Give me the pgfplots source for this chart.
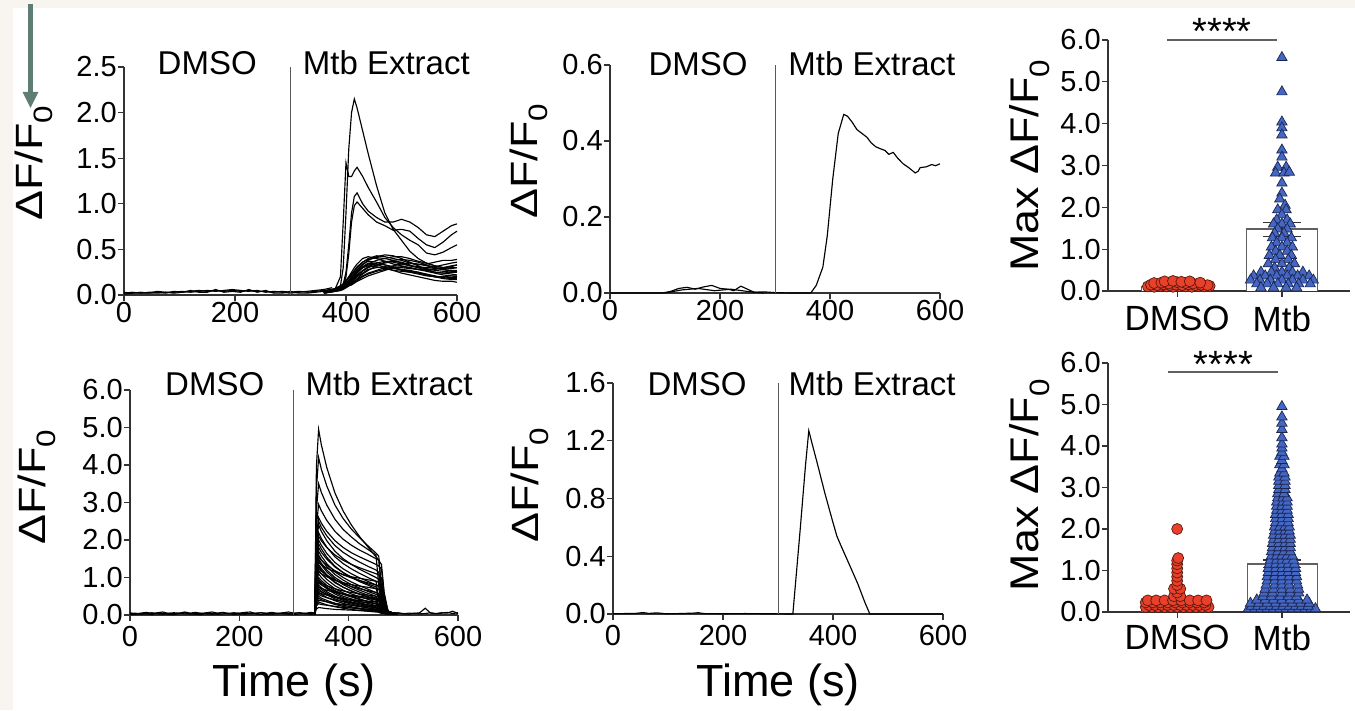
\documentclass[border=0pt]{standalone}
\usepackage{pgfplots}
\pgfplotsset{compat=1.18}
\usepackage{pgfplotstable}
\usepackage{graphicx}
\usepackage{fontspec}
\setmainfont{Liberation Sans}

\newcommand{\fs}[1]{\fontsize{#1}{#1}\selectfont}

\definecolor{bgc}{HTML}{F8F5F0}
\definecolor{arrowc}{HTML}{5E7D74}
\definecolor{dred}{HTML}{E8402A}
\definecolor{dredE}{HTML}{5A1A10}
\definecolor{mblue}{HTML}{4467C4}
\definecolor{mblueE}{HTML}{1B2550}
\definecolor{axc}{HTML}{333333}

\pgfplotsset{
  gp/.style={scale only axis, anchor=south west,
    axis x line*=bottom, axis y line*=left,
    axis line style={line width=1.4pt, axc},
    tick style={line width=1.2pt, axc},
    major tick length=6pt, tick align=outside,
    tick label style={font=\fs{29}, inner sep=1pt},
    /pgf/number format/assume math mode=true,
    yticklabel style={/pgf/number format/fixed,
      /pgf/number format/fixed zerofill, /pgf/number format/precision=1},
    clip=false},
  ylpos/.style 2 args={every axis y label/.style={
      at={(axis description cs:#1,#2)}, rotate=90, anchor=base, font=\fs{38}}},
  xlpos/.style={every axis x label/.style={
      at={(axis description cs:0.5,#1)}, anchor=base, font=\fs{45}}},
  tr/.style={black, line width=1.15pt, mark=none},
  stim/.style={gray!70!black, line width=1pt},
  barbox/.style={draw=gray!75!black, line width=1.3pt, fill=white},
  ebar/.style={axc, line width=1.3pt},
  dmso/.style={only marks, mark=*, mark size=5.5pt,
    mark options={fill=dred, draw=dredE, line width=0.7pt}},
  mtb/.style={only marks, mark=triangle*, mark size=6pt,
    mark options={fill=mblue, draw=mblueE, line width=0.7pt}},
}

% ---------- top-left traces ----------
\pgfplotstableread[header=true]{
name 0 15 30 45 60 75 90 105 120 135 150 165 180 195 210 225 240 255 270 285 300 315 330 345 360 375
b1 0.02 0.03 0.02 0.03 0.03 0.02 0.04 0.03 0.04 0.05 0.04 0.05 0.04 0.05 0.04 0.05 0.04 0.04 0.03 0.04 0.03 0.04 0.03 0.04 0.05 0.06
b2 0.01 0.02 0.03 0.02 0.02 0.03 0.03 0.04 0.03 0.04 0.05 0.04 0.05 0.06 0.05 0.04 0.05 0.03 0.04 0.03 0.02 0.03 0.04 0.05 0.06 0.08
b3 0.03 0.02 0.02 0.02 0.04 0.03 0.02 0.03 0.05 0.03 0.03 0.06 0.03 0.04 0.03 0.06 0.03 0.05 0.02 0.02 0.04 0.02 0.02 0.03 0.04 0.05
}\AbaseRaw
\pgfplotstabletranspose[colnames from=name]\Abase\AbaseRaw

\pgfplotstableread[header=true]{
name 360 380 390 395 400 405 410 415 420 430 440 455 470 485 500 515 530 545 560 575 590 600
T1 0.04 0.07 0.1 0.3 0.9 1.6 2.0 2.15 2.05 1.8 1.55 1.2 0.9 0.72 0.6 0.48 0.4 0.35 0.32 0.3 0.29 0.3
T2 0.04 0.06 0.2 0.8 1.45 1.3 1.3 1.36 1.4 1.3 1.18 1.02 0.85 0.74 0.66 0.6 0.55 0.46 0.44 0.47 0.52 0.55
T3 0.04 0.06 0.08 0.12 0.25 0.55 0.9 1.08 1.12 1.0 0.92 0.85 0.8 0.8 0.83 0.8 0.74 0.66 0.64 0.7 0.76 0.78
T4 0.04 0.05 0.07 0.1 0.2 0.45 0.8 0.98 1.02 0.95 0.88 0.8 0.76 0.71 0.72 0.7 0.62 0.55 0.52 0.58 0.66 0.7
L1 0.03 0.06 0.09 0.12 0.16 0.2 0.25 0.3 0.34 0.4 0.42 0.4 0.37 0.34 0.32 0.3 0.28 0.27 0.28 0.3 0.32 0.33
L2 0.04 0.07 0.1 0.12 0.15 0.18 0.22 0.26 0.3 0.36 0.4 0.43 0.42 0.4 0.38 0.35 0.33 0.34 0.36 0.38 0.38 0.39
L3 0.03 0.05 0.07 0.09 0.11 0.14 0.17 0.2 0.24 0.3 0.34 0.38 0.4 0.42 0.42 0.4 0.37 0.35 0.32 0.3 0.31 0.33
L4 0.02 0.05 0.08 0.1 0.13 0.16 0.2 0.24 0.28 0.34 0.37 0.36 0.33 0.3 0.27 0.25 0.24 0.22 0.2 0.2 0.21 0.2
L5 0.04 0.06 0.08 0.1 0.12 0.14 0.16 0.18 0.21 0.26 0.3 0.33 0.35 0.37 0.36 0.33 0.3 0.27 0.25 0.24 0.25 0.26
L6 0.03 0.05 0.06 0.08 0.1 0.12 0.14 0.17 0.2 0.24 0.28 0.3 0.31 0.3 0.28 0.26 0.25 0.22 0.2 0.18 0.17 0.17
L7 0.03 0.04 0.06 0.07 0.09 0.11 0.13 0.15 0.17 0.21 0.24 0.27 0.3 0.32 0.34 0.35 0.34 0.32 0.3 0.29 0.3 0.3
L8 0.02 0.04 0.05 0.07 0.09 0.12 0.16 0.2 0.25 0.31 0.35 0.34 0.3 0.27 0.24 0.22 0.2 0.18 0.16 0.15 0.15 0.14
L9 0.04 0.06 0.07 0.08 0.1 0.11 0.13 0.15 0.18 0.23 0.27 0.32 0.36 0.38 0.39 0.38 0.36 0.33 0.3 0.28 0.27 0.27
L10 0.03 0.05 0.07 0.09 0.12 0.15 0.19 0.23 0.27 0.33 0.38 0.42 0.44 0.43 0.4 0.36 0.32 0.28 0.25 0.24 0.23 0.22
L11 0.02 0.04 0.05 0.06 0.08 0.1 0.12 0.14 0.16 0.2 0.23 0.26 0.28 0.29 0.28 0.27 0.25 0.23 0.21 0.19 0.18 0.18
L12 0.03 0.05 0.06 0.08 0.1 0.13 0.16 0.19 0.22 0.27 0.31 0.35 0.37 0.36 0.34 0.32 0.31 0.3 0.31 0.33 0.35 0.36
L13 0.04 0.06 0.08 0.1 0.12 0.15 0.18 0.22 0.26 0.3 0.32 0.31 0.29 0.27 0.26 0.25 0.23 0.21 0.2 0.2 0.19 0.19
L14 0.03 0.05 0.06 0.07 0.08 0.1 0.11 0.13 0.15 0.18 0.21 0.24 0.27 0.3 0.31 0.3 0.28 0.26 0.24 0.22 0.21 0.21
L15 0.02 0.04 0.06 0.08 0.11 0.14 0.18 0.22 0.26 0.3 0.33 0.34 0.33 0.31 0.3 0.29 0.28 0.28 0.29 0.28 0.26 0.25
L16 0.03 0.06 0.09 0.12 0.15 0.19 0.23 0.27 0.31 0.36 0.39 0.41 0.4 0.38 0.35 0.32 0.3 0.29 0.27 0.26 0.25 0.25
}\AoneRaw
\pgfplotstabletranspose[colnames from=name]\Aone\AoneRaw

% ---------- bottom-left traces ----------
\pgfplotstableread[header=true]{
name 0 10 20 30 40 50 60 70 80 90 100 110 120 130 140 150 160 170 180 190 200 210 220 230 240 250 260 270 280 290 300 310 320 330 340
a1 0.03 0.05 0.02 0.04 0.06 0.03 0.02 0.05 0.04 0.03 0.06 0.02 0.04 0.05 0.03 0.02 0.04 0.06 0.03 0.05 0.02 0.04 0.03 0.05 0.06 0.02 0.04 0.03 0.05 0.02 0.04 0.06 0.03 0.04 0.03
a2 0.01 0.02 0.04 0.03 0.01 0.05 0.04 0.02 0.01 0.05 0.03 0.04 0.02 0.01 0.05 0.04 0.02 0.03 0.05 0.01 0.04 0.02 0.05 0.03 0.01 0.04 0.02 0.05 0.03 0.04 0.01 0.03 0.05 0.02 0.03
a3 0.06 0.03 0.05 0.07 0.04 0.06 0.08 0.04 0.06 0.05 0.08 0.05 0.07 0.04 0.06 0.08 0.05 0.07 0.04 0.06 0.05 0.07 0.08 0.04 0.06 0.05 0.07 0.04 0.06 0.08 0.05 0.06 0.04 0.07 0.05
}\BbaseRaw
\pgfplotstabletranspose[colnames from=name]\Bbase\BbaseRaw

\pgfplotstableread[header=true]{
name 470 480 490 500 510 520 530 540 550 560 570 580 590 600
z1 0.05 0.04 0.06 0.03 0.05 0.04 0.06 0.18 0.05 0.04 0.06 0.05 0.1 0.04
z2 0.08 0.03 0.05 0.04 0.02 0.05 0.03 0.04 0.06 0.03 0.05 0.07 0.04 0.06
}\BtailRaw
\pgfplotstabletranspose[colnames from=name]\Btail\BtailRaw

\pgfplotstableread[header=true]{
name 338 341 345 350 360 375 390 405 420 435 450 455 460 465 472 480 490
r1 0.04 3.96 4.95 4.54 3.93 3.25 2.77 2.40 2.09 1.82 1.55 1.47 0.70 0.28 0.08 0.05 0.03
r2 0.03 3.36 4.2 3.89 3.44 2.93 2.57 2.29 2.06 1.85 1.65 1.57 0.74 0.3 0.08 0.05 0.03
r3 0.05 2.8 3.5 3.27 2.93 2.55 2.28 2.08 1.9 1.75 1.6 0.8 0.32 0.1 0.06 0.05 0.03
r4 0.03 2.36 2.95 2.78 2.52 2.23 2.02 1.86 1.73 1.62 1.5 1.46 1.35 0.6 0.1 0.06 0.03
r5 0.04 2.08 2.6 2.45 2.23 1.98 1.8 1.66 1.55 1.45 1.35 1.31 1.22 0.54 0.1 0.06 0.03
r6 0.02 2.0 2.5 2.34 2.11 1.85 1.67 1.53 1.41 1.3 1.2 1.14 0.54 0.23 0.08 0.05 0.03
r7 0.04 1.92 2.4 2.23 1.98 1.7 1.5 1.35 1.22 1.11 1.0 0.95 0.45 0.2 0.08 0.05 0.03
r8 0.03 1.76 2.2 2.04 1.81 1.55 1.37 1.23 1.11 1.0 0.9 0.45 0.18 0.1 0.06 0.04 0.03
r9 0.05 1.68 2.1 1.98 1.8 1.6 1.46 1.35 1.26 1.18 1.1 1.07 0.99 0.44 0.1 0.06 0.03
r10 0.03 1.6 2.0 1.86 1.64 1.4 1.23 1.1 0.99 0.9 0.8 0.76 0.36 0.17 0.08 0.05 0.03
r11 0.04 1.52 1.9 1.76 1.54 1.3 1.13 1.0 0.89 0.8 0.7 0.68 0.63 0.28 0.1 0.06 0.03
r12 0.02 1.44 1.8 1.67 1.49 1.28 1.13 1.01 0.92 0.83 0.75 0.38 0.15 0.1 0.06 0.04 0.03
r13 0.04 1.36 1.7 1.57 1.37 1.15 1.0 0.88 0.78 0.69 0.6 0.57 0.27 0.14 0.08 0.05 0.03
r14 0.03 1.28 1.6 1.47 1.29 1.08 0.93 0.81 0.72 0.63 0.55 0.53 0.5 0.22 0.09 0.06 0.03
r15 0.05 1.2 1.5 1.38 1.2 1.0 0.86 0.75 0.66 0.58 0.5 0.25 0.1 0.07 0.05 0.04 0.03
r16 0.03 1.16 1.45 1.33 1.15 0.95 0.81 0.7 0.61 0.53 0.45 0.43 0.2 0.12 0.07 0.05 0.03
r17 0.04 1.08 1.35 1.24 1.07 0.88 0.74 0.64 0.55 0.48 0.4 0.38 0.18 0.11 0.07 0.05 0.03
r18 0.02 1.04 1.3 1.19 1.04 0.86 0.74 0.64 0.56 0.49 0.42 0.41 0.38 0.17 0.08 0.05 0.03
r19 0.04 0.96 1.2 1.1 0.95 0.78 0.66 0.56 0.49 0.42 0.35 0.18 0.08 0.06 0.05 0.04 0.03
r20 0.03 0.88 1.1 1.0 0.86 0.7 0.59 0.5 0.43 0.36 0.3 0.29 0.14 0.09 0.06 0.04 0.03
r21 0.05 0.8 1.0 0.92 0.79 0.65 0.55 0.48 0.41 0.36 0.3 0.15 0.07 0.05 0.04 0.03 0.02
r22 0.03 0.76 0.95 0.87 0.74 0.6 0.5 0.43 0.36 0.31 0.25 0.24 0.23 0.1 0.06 0.04 0.03
r23 0.04 0.72 0.9 0.82 0.7 0.56 0.46 0.39 0.33 0.27 0.22 0.11 0.06 0.05 0.04 0.03 0.02
r24 0.02 0.64 0.8 0.73 0.62 0.5 0.42 0.35 0.3 0.25 0.2 0.19 0.09 0.06 0.05 0.04 0.03
r25 0.04 0.6 0.75 0.68 0.58 0.47 0.39 0.32 0.27 0.23 0.18 0.17 0.16 0.08 0.05 0.04 0.03
r26 0.03 0.56 0.7 0.63 0.54 0.43 0.35 0.29 0.24 0.19 0.15 0.14 0.08 0.05 0.04 0.03 0.02
r27 0.05 0.48 0.6 0.55 0.47 0.38 0.31 0.26 0.22 0.19 0.15 0.15 0.14 0.07 0.05 0.04 0.03
r28 0.03 0.4 0.5 0.45 0.39 0.31 0.26 0.22 0.18 0.15 0.12 0.07 0.05 0.04 0.04 0.03 0.02
r29 0.04 0.36 0.45 0.41 0.35 0.28 0.23 0.19 0.16 0.13 0.1 0.1 0.09 0.05 0.04 0.03 0.02
r30 0.02 0.28 0.35 0.32 0.27 0.22 0.18 0.15 0.12 0.1 0.08 0.08 0.05 0.04 0.03 0.03 0.02
r31 0.03 0.52 0.65 0.61 0.55 0.48 0.43 0.39 0.36 0.33 0.3 0.29 0.27 0.12 0.07 0.04 0.03
r32 0.04 1.0 1.25 1.17 1.06 0.93 0.83 0.76 0.7 0.65 0.6 0.57 0.27 0.14 0.08 0.05 0.03
r33 0.03 0.68 0.85 0.8 0.72 0.63 0.56 0.51 0.47 0.44 0.4 0.2 0.08 0.06 0.05 0.04 0.03
r34 0.05 1.24 1.55 1.46 1.33 1.18 1.07 0.99 0.92 0.86 0.8 0.78 0.72 0.32 0.1 0.06 0.03
r35 0.02 0.44 0.55 0.51 0.46 0.4 0.36 0.33 0.3 0.27 0.25 0.24 0.11 0.09 0.05 0.04 0.03
r36 0.03 0.32 0.4 0.38 0.35 0.31 0.28 0.26 0.24 0.22 0.2 0.19 0.18 0.08 0.05 0.04 0.03
r37 0.04 0.24 0.3 0.28 0.26 0.23 0.2 0.19 0.17 0.16 0.15 0.08 0.05 0.04 0.03 0.03 0.02
r38 0.03 0.72 0.9 0.85 0.78 0.7 0.64 0.6 0.56 0.53 0.5 0.48 0.22 0.1 0.06 0.04 0.03
r39 0.04 0.92 1.15 1.1 1.02 0.93 0.86 0.81 0.77 0.74 0.7 0.68 0.63 0.28 0.1 0.05 0.03
r40 0.03 0.48 0.6 0.57 0.53 0.48 0.44 0.41 0.39 0.37 0.35 0.18 0.08 0.05 0.04 0.03 0.02
r41 0.02 0.16 0.2 0.19 0.17 0.15 0.14 0.13 0.12 0.11 0.1 0.1 0.06 0.04 0.03 0.03 0.02
r42 0.04 0.6 0.75 0.71 0.66 0.6 0.56 0.52 0.5 0.47 0.45 0.43 0.2 0.1 0.06 0.04 0.03
r43 0.03 1.12 1.4 1.34 1.25 1.15 1.08 1.02 0.98 0.94 0.9 0.87 0.81 0.36 0.1 0.06 0.03
}\AtwoRaw
\pgfplotstabletranspose[colnames from=name]\Atwo\AtwoRaw

\begin{document}
\begin{tikzpicture}
\useasboundingbox (0,0) rectangle (1355pt,710pt);
\fill[bgc] (0,0) rectangle (1355pt,710pt);
\fill[white] (13pt,0) rectangle (1355pt,702pt);
% marker arrow
\fill[arrowc] (28pt,706pt) rectangle (33pt,616pt);
\fill[arrowc] (22.5pt,618pt) -- (38.5pt,618pt) -- (30.5pt,602pt) -- cycle;

% ===== top-left =====
\begin{axis}[gp, at={(124pt,415pt)}, width=333pt, height=228pt,
  xmin=0, xmax=600, ymin=0, ymax=2.5,
  xtick={0,200,400,600}, ytick={0,0.5,1,1.5,2,2.5},
  ylabel={\scalebox{1.18}[1]{ΔF/F\textsubscript{0}}}, ylpos={-0.246}{0.579}]
  \pgfplotsinvokeforeach{b1,b2,b3}{\addplot[tr] table[x=colnames,y=#1]{\Abase};}
  \pgfplotsinvokeforeach{L1,L2,L3,L4,L5,L6,L7,L8,L9,L10,L11,L12,L13,L14,L15,L16,T4,T3,T2,T1}{
    \addplot[tr] table[x=colnames,y=#1]{\Aone};}
  \addplot[stim] coordinates {(300,0) (300,2.5)};
  \node[font=\fs{33}, anchor=base, yshift=-8pt] at (axis cs:150,2.5) {DMSO};
  \node[font=\fs{33}, anchor=base west, yshift=-8pt] at (axis cs:316,2.5) {Mtb Extract};
\end{axis}

% ===== top-middle =====
\begin{axis}[gp, at={(610pt,417pt)}, width=330pt, height=228pt,
  xmin=0, xmax=600, ymin=0, ymax=0.6,
  xtick={0,200,400,600}, ytick={0,0.2,0.4,0.6},
  ylabel={\scalebox{1.18}[1]{ΔF/F\textsubscript{0}}}, ylpos={-0.221}{0.579}]
  \addplot[tr] coordinates {(100,0) (130,0.008) (160,0.012) (190,0.006) (220,0.01) (250,0.004) (280,0)};
  \addplot[tr] coordinates {(0,0) (95,0) (110,0.004) (125,0.012) (140,0.015) (155,0.01)
    (170,0.016) (185,0.02) (200,0.012) (215,0.01) (225,0.006) (238,0.018) (250,0.01)
    (262,0.002) (280,0.003) (300,0.001) (330,0) (365,0) (375,0.02) (387,0.068) (395,0.15)
    (405,0.3) (415,0.42) (425,0.47) (432,0.465) (440,0.45) (449,0.43) (458,0.42) (467,0.41)
    (475,0.395) (483,0.385) (491,0.38) (500,0.375) (507,0.365) (515,0.37) (523,0.355)
    (533,0.34) (543,0.33) (555,0.316) (560,0.32) (564,0.33) (575,0.332) (585,0.338)
    (592,0.335) (600,0.34)};
  \addplot[stim] coordinates {(300,0) (300,0.6)};
  \node[font=\fs{33}, anchor=base, yshift=-10pt] at (axis cs:160,0.6) {DMSO};
  \node[font=\fs{33}, anchor=base west, yshift=-10pt] at (axis cs:318,0.6) {Mtb Extract};
\end{axis}

% ===== top-right =====
\begin{axis}[gp, at={(1108pt,419pt)}, width=242pt, height=251pt,
  xmin=0.34, xmax=2.65, ymin=0, ymax=6,
  ytick={0,1,2,3,4,5,6}, xtick={1,2}, xticklabels={DMSO,Mtb},
  xticklabel style={font=\fs{35}, yshift=-8pt},
  ylabel={\scalebox{1.12}[1]{Max ΔF/F\textsubscript{0}}}, ylpos={-0.289}{0.5},
  every axis y label/.append style={font=\fs{40}}]
  \addplot[barbox] coordinates {(0.66,0) (0.66,0.11) (1.34,0.11) (1.34,0)};
  \addplot[barbox] coordinates {(1.66,0) (1.66,1.48) (2.34,1.48) (2.34,0)};
  \addplot[dmso] coordinates {
    (0.72,0.11) (0.78,0.1) (0.84,0.12) (0.9,0.11) (0.96,0.1) (1.02,0.12) (1.08,0.11)
    (1.14,0.1) (1.2,0.12) (1.26,0.11) (1.31,0.12)
    (0.75,0.15) (0.81,0.14) (0.87,0.16) (0.93,0.14) (0.99,0.15) (1.05,0.14) (1.11,0.16)
    (1.17,0.14) (1.23,0.15) (1.29,0.14)
    (0.78,0.19) (0.85,0.2) (0.92,0.18) (1.0,0.21) (1.08,0.19) (1.15,0.18) (1.22,0.2)
    (0.88,0.23) (0.96,0.24) (1.04,0.22) (1.12,0.23)};
  \addplot[mtb] coordinates {
    (2,5.58) (2,4.76) (2,4.04) (2,3.9) (2,3.73) (2,3.37) (2,3.2) (1.96,2.96) (2.04,2.96)
    (1.94,2.82) (2.02,2.82) (2.07,2.84) (2,2.58) (2,2.34) (1.98,2.2) (2.03,2.05)
    (1.96,1.94) (2.04,1.94) (2,1.82) (1.95,1.7) (2.05,1.7) (1.92,1.6) (2,1.6) (2.08,1.6)
    (1.96,1.48) (2.05,1.48) (1.93,1.38) (2.02,1.38) (1.91,1.27) (2,1.27) (2.09,1.27)
    (1.95,1.15) (2.05,1.15) (1.9,1.05) (2,1.05) (2.1,1.05) (1.94,0.95) (2.05,0.95)
    (1.88,0.85) (1.98,0.85) (2.09,0.85) (1.94,0.75) (2.06,0.75) (1.87,0.65) (2,0.65)
    (2.12,0.65) (1.93,0.55) (2.07,0.55) (1.8,0.45) (1.9,0.45) (2,0.45) (2.1,0.45)
    (2.2,0.45) (1.73,0.36) (1.84,0.36) (1.95,0.36) (2.05,0.36) (2.15,0.36) (2.26,0.36)
    (1.7,0.26) (1.79,0.26) (1.89,0.26) (2,0.26) (2.1,0.26) (2.2,0.26) (2.3,0.26)
    (1.76,0.17) (1.86,0.17) (1.96,0.17) (2.06,0.17) (2.16,0.17) (2.27,0.17)
    (1.8,0.08) (1.92,0.08) (2.04,0.08) (2.14,0.08)};
  \addplot[ebar] coordinates {(2,1.31) (2,1.64)};
  \addplot[ebar] coordinates {(1.82,1.64) (2.18,1.64)};
  \addplot[ebar] coordinates {(1.82,1.31) (2.18,1.31)};
  \addplot[gray!75!black, line width=1.3pt] coordinates {(0.905,6) (1.95,6)};
  \node[font=\fs{38}, anchor=base] at (axis cs:1.43,5.9) {****};
\end{axis}

% ===== bottom-left =====
\begin{axis}[gp, at={(130pt,95pt)}, width=328pt, height=225pt,
  xmin=0, xmax=600, ymin=0, ymax=6,
  xtick={0,200,400,600}, ytick={0,1,2,3,4,5,6},
  xticklabel style={yshift=-4pt},
  ylabel={\scalebox{1.18}[1]{ΔF/F\textsubscript{0}}}, ylpos={-0.259}{0.569},
  xlabel={Time (s)}, xlpos={-0.364}]
  \pgfplotsinvokeforeach{a1,a2,a3}{\addplot[tr] table[x=colnames,y=#1]{\Bbase};}
  \pgfplotsinvokeforeach{z1,z2}{\addplot[tr] table[x=colnames,y=#1]{\Btail};}
  \pgfplotsinvokeforeach{r1,r2,r3,r4,r5,r6,r7,r8,r9,r10,r11,r12,r13,r14,r15,r16,r17,r18,
    r19,r20,r21,r22,r23,r24,r25,r26,r27,r28,r29,r30,r31,r32,r33,r34,r35,r36,r37,r38,
    r39,r40,r41,r42,r43}{
    \addplot[tr] table[x=colnames,y=#1]{\Atwo};}
  \addplot[stim] coordinates {(300,0) (300,6)};
  \node[font=\fs{33}, anchor=base, yshift=-5pt] at (axis cs:155,6) {DMSO};
  \node[font=\fs{33}, anchor=base west, yshift=-5pt] at (axis cs:315,6) {Mtb Extract};
\end{axis}

% ===== bottom-middle =====
\begin{axis}[gp, at={(613pt,96pt)}, width=330pt, height=231pt,
  xmin=0, xmax=600, ymin=0, ymax=1.6,
  xtick={0,200,400,600}, ytick={0,0.4,0.8,1.2,1.6},
  xticklabel style={yshift=-4pt},
  ylabel={\scalebox{1.18}[1]{ΔF/F\textsubscript{0}}}, ylpos={-0.227}{0.558},
  xlabel={Time (s)}, xlpos={-0.359}]
  \addplot[tr] coordinates {(0,0.002) (40,0.004) (55,0.01) (65,0.004) (80,0.008) (95,0.002)
    (120,0.003) (145,0.006) (155,0.009) (165,0.003) (200,0.002) (240,0.003) (280,0.002)
    (300,0.001) (327,0) (340,0.57) (350,1.03) (356,1.27) (362,1.18) (371,1.05) (385,0.84)
    (398,0.66) (407,0.54) (416,0.46) (430,0.34) (445,0.21) (458,0.08) (467,0) (600,0)};
  \addplot[stim] coordinates {(300,0) (300,1.6)};
  \node[font=\fs{33}, anchor=base, yshift=-12pt] at (axis cs:153,1.6) {DMSO};
  \node[font=\fs{33}, anchor=base west, yshift=-12pt] at (axis cs:313,1.6) {Mtb Extract};
\end{axis}

% ===== bottom-right =====
\begin{axis}[gp, at={(1108pt,98pt)}, width=242pt, height=249pt,
  xmin=0.34, xmax=2.65, ymin=0, ymax=6,
  ytick={0,1,2,3,4,5,6}, xtick={1,2}, xticklabels={DMSO,Mtb},
  xticklabel style={font=\fs{35}, yshift=-6pt},
  ylabel={\scalebox{1.12}[1]{Max ΔF/F\textsubscript{0}}}, ylpos={-0.289}{0.51},
  every axis y label/.append style={font=\fs{40}}]
  \addplot[barbox] coordinates {(0.66,0) (0.66,0.2) (1.34,0.2) (1.34,0)};
  \addplot[barbox] coordinates {(1.67,0) (1.67,1.16) (2.34,1.16) (2.34,0)};
  \addplot[dmso] coordinates {
    (0.7,0.12) (0.76,0.12) (0.82,0.12) (0.88,0.12) (0.94,0.12) (1.0,0.12) (1.06,0.12)
    (1.12,0.12) (1.18,0.12) (1.24,0.12) (1.3,0.12)
    (0.73,0.17) (0.79,0.17) (0.85,0.17) (0.91,0.17) (0.97,0.17) (1.03,0.17) (1.09,0.17)
    (1.15,0.17) (1.21,0.17) (1.27,0.17)
    (0.7,0.23) (0.77,0.23) (0.84,0.23) (0.91,0.23) (0.98,0.23) (1.05,0.23) (1.12,0.23)
    (1.19,0.23) (1.26,0.23)
    (0.72,0.28) (0.8,0.28) (0.88,0.28) (0.96,0.28) (1.04,0.28) (1.12,0.28) (1.2,0.28)
    (1.28,0.28)
    (0.97,0.38) (1.03,0.38) (1.0,0.47) (0.97,0.56) (1.03,0.56) (1.0,0.65) (1.0,0.75)
    (1.0,0.85) (1.0,0.95) (1.0,1.05) (1.0,1.15) (1.0,1.24) (1.01,1.3) (1.0,2.0)};
  \addplot[mtb] coordinates {
    (1.68,0.08) (1.74,0.08) (1.8,0.08) (1.86,0.08) (1.92,0.08) (1.98,0.08) (2.04,0.08)
    (2.1,0.08) (2.16,0.08) (2.22,0.08) (2.28,0.08) (2.32,0.08)
    (1.71,0.14) (1.77,0.14) (1.83,0.14) (1.89,0.14) (1.95,0.14) (2.01,0.14) (2.07,0.14)
    (2.13,0.14) (2.19,0.14) (2.25,0.14)
    (1.7,0.21) (1.78,0.21) (1.86,0.21) (1.94,0.21) (2.02,0.21) (2.1,0.21) (2.18,0.21)
    (2.26,0.21)
    (1.76,0.29) (1.84,0.29) (1.92,0.29) (2.0,0.29) (2.08,0.29) (2.16,0.29) (2.24,0.29)
    (1.82,0.37) (1.9,0.37) (1.98,0.37) (2.06,0.37) (2.14,0.37)
    (1.83,0.46) (1.91,0.46) (2.0,0.46) (2.08,0.46) (2.16,0.46)
    (1.84,0.55) (1.92,0.55) (2.0,0.55) (2.08,0.55) (2.16,0.55)
    (1.85,0.65) (1.93,0.65) (2.0,0.65) (2.07,0.65) (2.15,0.65)
    (1.86,0.75) (1.93,0.75) (2.0,0.75) (2.07,0.75) (2.14,0.75)
    (1.86,0.85) (1.93,0.85) (2.0,0.85) (2.07,0.85) (2.14,0.85)
    (1.87,0.95) (1.94,0.95) (2.0,0.95) (2.06,0.95) (2.13,0.95)
    (1.87,1.05) (1.94,1.05) (2.0,1.05) (2.06,1.05) (2.13,1.05)
    (1.88,1.15) (1.94,1.15) (2.0,1.15) (2.06,1.15) (2.12,1.15)
    (1.89,1.25) (1.95,1.25) (2.0,1.25) (2.05,1.25) (2.11,1.25)
    (1.9,1.35) (1.95,1.35) (2.0,1.35) (2.05,1.35) (2.1,1.35)
    (1.9,1.45) (1.96,1.45) (2.02,1.45) (2.08,1.45)
    (1.91,1.55) (1.97,1.55) (2.03,1.55) (2.08,1.55)
    (1.91,1.65) (1.97,1.65) (2.03,1.65) (2.08,1.65)
    (1.92,1.75) (1.97,1.75) (2.03,1.75) (2.08,1.75)
    (1.92,1.85) (1.98,1.85) (2.03,1.85) (2.08,1.85)
    (1.93,1.95) (1.98,1.95) (2.03,1.95) (2.07,1.95)
    (1.93,2.05) (1.98,2.05) (2.03,2.05) (2.07,2.05)
    (1.94,2.15) (2.0,2.15) (2.06,2.15) (1.94,2.25) (2.0,2.25) (2.06,2.25)
    (1.94,2.35) (2.0,2.35) (2.06,2.35) (1.95,2.45) (2.0,2.45) (2.05,2.45)
    (1.95,2.55) (2.0,2.55) (2.05,2.55) (1.95,2.65) (2.01,2.65) (2.05,2.65)
    (1.96,2.75) (2.01,2.75) (2.05,2.75) (1.96,2.85) (2.02,2.85)
    (1.97,2.95) (2.03,2.95) (1.97,3.05) (2.03,3.05) (1.97,3.15) (2.03,3.15)
    (1.97,3.25) (2.03,3.25) (1.98,3.35) (2.02,3.35) (2.0,3.45) (1.98,3.55) (2.02,3.55)
    (2.0,3.65) (1.98,3.75) (2.02,3.75) (2.0,3.85) (2.0,3.95) (2.0,4.05) (2.0,4.2)
    (2.0,4.4) (2.0,4.55) (2.0,4.7) (2.0,4.95)};
  \addplot[ebar] coordinates {(2,1.07) (2,1.25)};
  \addplot[ebar] coordinates {(1.82,1.25) (2.18,1.25)};
  \addplot[ebar] coordinates {(1.82,1.07) (2.18,1.07)};
  \addplot[gray!75!black, line width=1.3pt] coordinates {(0.914,5.78) (1.962,5.78)};
  \node[font=\fs{38}, anchor=base] at (axis cs:1.44,5.66) {****};
\end{axis}
\end{tikzpicture}
\end{document}
